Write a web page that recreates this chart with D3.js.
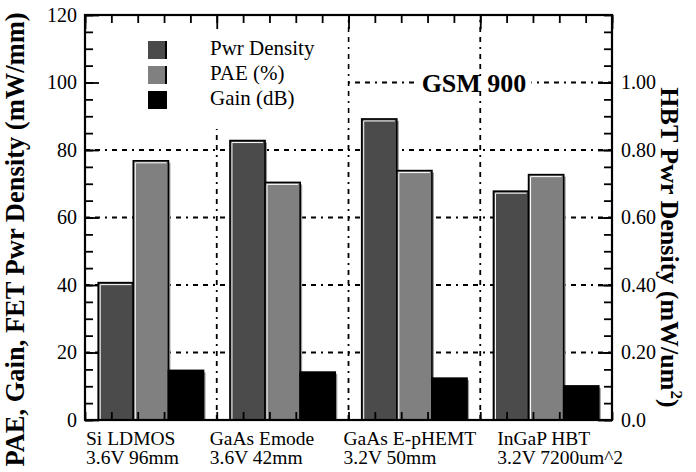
<!DOCTYPE html>
<html>
<head>
<meta charset="utf-8">
<script src="https://cdn.jsdelivr.net/npm/d3@7"></script>
<style>
  html, body { margin: 0; padding: 0; background: #fff; }
  svg text { font-family: "Liberation Serif", "Times New Roman", serif; }
</style>
</head>
<body>
<div id="chart"></div>
<script>
// Data
const devices = ["Si LDMOS", "GaAs Emode", "GaAs E-pHEMT", "InGaP HBT"];
const conditions = ["3.6V 96mm", "3.6V 42mm", "3.2V 50mm", "3.2V 7200um^2"];
const series = ["Pwr Density", "PAE (%)", "Gain (dB)"];
// FET power density in mW/mm; HBT value plotted on the same scale (right axis x100)
const pwrDensity = [40.7, 82.8, 89.2, 67.8];
const pae = [76.8, 70.4, 73.9, 72.7];
const gain = [14.7, 14.2, 12.4, 10.1];
const leftTicks = [0, 20, 40, 60, 80, 100, 120];
const rightTicks = [0, 0.2, 0.4, 0.6, 0.8, 1.0];

const width = 696, height = 472;
const margin = { top: 15, right: 84, bottom: 52, left: 85 };
const x0 = margin.left, x1 = width - margin.right;
const y0 = height - margin.bottom, y1 = margin.top;
const serif = "'Liberation Serif', 'Times New Roman', serif";

const colors = ["#4b4b4b", "#808080", "#000000"];
const values = [pwrDensity, pae, gain];

const svg = d3.select("#chart").append("svg")
    .attr("width", width)
    .attr("height", height)
    .attr("font-family", serif);

// Scales
const x = d3.scaleBand().domain(devices).range([x0, x1]).padding(0);
const xs = d3.scaleBand().domain(series).range([0, x.bandwidth()]).paddingInner(0).paddingOuter(0.376);
const xLin = d3.scaleLinear().domain([0, devices.length]).range([x0, x1]);
const y = d3.scaleLinear().domain([0, 120]).range([y0, y1]);
const yR = d3.scaleLinear().domain([0, 1.2]).range([y0, y1]);

// Grid lines (dash-dot)
const grid = svg.append("g")
    .attr("stroke", "#000")
    .attr("stroke-width", 1.8)
    .attr("stroke-dasharray", "5,5,5,5,2,5");
grid.selectAll("line.v")
    .data(d3.range(1, devices.length))
    .join("line")
    .attr("class", "v")
    .attr("x1", d => xLin(d)).attr("x2", d => xLin(d))
    .attr("y1", y0).attr("y2", y1);
grid.selectAll("line.h")
    .data(leftTicks.slice(1, -1))
    .join("line")
    .attr("class", "h")
    .attr("x1", x0).attr("x2", x1)
    .attr("y1", d => y(d)).attr("y2", d => y(d));

// Legend backdrop hides the grid in the upper-left cell
svg.append("rect")
    .attr("x", x0 + 1).attr("y", y1 + 1)
    .attr("width", xLin(2) - x0 - 2)
    .attr("height", y(80) - y1 - 22)
    .attr("fill", "#fff");

// Bars
const groups = svg.append("g")
    .selectAll("g")
    .data(devices)
    .join("g")
    .attr("transform", d => `translate(${x(d)},0)`);

const bars = groups.selectAll("g")
    .data((d, i) => series.map((s, k) => ({ s, k, v: values[k][i] })))
    .join("g");

bars.append("rect")
    .attr("x", d => xs(d.s) + 2)
    .attr("y", d => y(d.v) + 2)
    .attr("width", xs.bandwidth())
    .attr("height", d => y0 - y(d.v) - 2)
    .attr("fill", "#9a9a9a");

bars.append("rect")
    .attr("x", d => xs(d.s))
    .attr("y", d => y(d.v))
    .attr("width", xs.bandwidth())
    .attr("height", d => y0 - y(d.v))
    .attr("fill", d => colors[d.k])
    .attr("stroke", "#000")
    .attr("stroke-width", 1.6);

// inner highlight on top and left edges
bars.filter(d => d.k < 2).append("path")
    .attr("d", d => {
        const bx = xs(d.s) + 2, by = y(d.v) + 2;
        return `M${bx},${y0 - 1}V${by}H${bx + xs.bandwidth() - 4}`;
    })
    .attr("fill", "none")
    .attr("stroke", "#fff")
    .attr("stroke-width", 1);

// Axes ticks (inward)
function styleAxis(g) {
    g.select(".domain").remove();
    g.selectAll("line").attr("stroke", "#000").attr("stroke-width", 1.8);
}

svg.append("g").attr("transform", `translate(${x0},0)`)
    .call(d3.axisRight(y).tickValues(d3.range(0, 121, 5)).tickSize(8).tickFormat(""))
    .call(styleAxis);
svg.append("g").attr("transform", `translate(${x0},0)`)
    .call(d3.axisRight(y).tickValues(leftTicks).tickSize(14).tickFormat(""))
    .call(styleAxis);
svg.append("g").attr("transform", `translate(${x1},0)`)
    .call(d3.axisLeft(yR).tickValues(d3.range(0, 1.21, 0.05)).tickSize(8).tickFormat(""))
    .call(styleAxis);
svg.append("g").attr("transform", `translate(${x1},0)`)
    .call(d3.axisLeft(yR).tickValues(rightTicks).tickSize(14).tickFormat(""))
    .call(styleAxis);
svg.append("g").attr("transform", `translate(0,${y1})`)
    .call(d3.axisBottom(xLin).tickValues(d3.range(0, 4.01, 0.2)).tickSize(8).tickFormat(""))
    .call(styleAxis);
svg.append("g").attr("transform", `translate(0,${y1})`)
    .call(d3.axisBottom(xLin).tickValues(d3.range(0, 5)).tickSize(14).tickFormat(""))
    .call(styleAxis);
svg.append("g").attr("transform", `translate(0,${y0})`)
    .call(d3.axisTop(xLin).tickValues(d3.range(0, 4.01, 0.2)).tickSize(8).tickFormat(""))
    .call(styleAxis);

// Frame
svg.append("rect")
    .attr("x", x0).attr("y", y1)
    .attr("width", x1 - x0).attr("height", y0 - y1)
    .attr("fill", "none")
    .attr("stroke", "#000")
    .attr("stroke-width", 2.2);

// Tick labels
const leftLab = svg.append("g").attr("transform", `translate(${x0},0)`)
    .call(d3.axisLeft(y).tickValues(leftTicks).tickSize(0).tickPadding(8));
leftLab.attr("font-family", serif).attr("font-size", 20);
leftLab.select(".domain").remove();
leftLab.selectAll("text").attr("fill", "#000");

const rightLab = svg.append("g").attr("transform", `translate(${x1},0)`)
    .call(d3.axisRight(yR).tickValues(rightTicks).tickSize(0).tickPadding(9)
        .tickFormat(d => d === 0 ? "0.0" : d3.format(".2f")(d)));
rightLab.attr("font-family", serif).attr("font-size", 20);
rightLab.select(".domain").remove();
rightLab.selectAll("text").attr("fill", "#000");

// Category labels
const labelShift = [1, -7, -5, 17];
const cat = svg.append("g")
    .attr("font-size", 19.5)
    .selectAll("text")
    .data(devices)
    .join("text")
    .attr("x", (d, i) => x(d) + labelShift[i])
    .attr("y", y0 + 25)
    .attr("fill", "#000");
cat.append("tspan").text(d => d);
cat.append("tspan")
    .attr("x", (d, i) => x(d) + labelShift[i])
    .attr("dy", 19)
    .text((d, i) => conditions[i]);

// Legend
const legend = svg.append("g")
    .selectAll("g")
    .data(series)
    .join("g")
    .attr("transform", (d, i) => `translate(148,${41 + i * 25})`);
legend.append("rect")
    .attr("width", 19).attr("height", 18)
    .attr("fill", (d, i) => colors[i]);
legend.filter((d, i) => i < 2).append("line")
    .attr("x1", 18).attr("x2", 18).attr("y1", 0).attr("y2", 18)
    .attr("stroke", "#000").attr("stroke-width", 2);
legend.append("text")
    .attr("x", 62).attr("y", 14)
    .attr("font-size", 21)
    .attr("fill", "#000")
    .text(d => d);

// GSM 900 annotation with a white backdrop over the grid line
const annG = svg.append("g");
const annBg = annG.append("rect").attr("fill", "#fff");
const ann = annG.append("text")
    .attr("x", 474).attr("y", y(100) + 9)
    .attr("text-anchor", "middle")
    .attr("font-size", 26)
    .attr("font-weight", "bold")
    .text("GSM 900");
const bb = ann.node().getBBox();
annBg.attr("x", bb.x - 5).attr("y", y(100) - 4)
    .attr("width", bb.width + 10).attr("height", 8);

// Axis titles
svg.append("text")
    .attr("transform", `translate(24,${(y0 + y1) / 2 + 22}) rotate(-90)`)
    .attr("text-anchor", "middle")
    .attr("font-size", 26.5)
    .attr("font-weight", "bold")
    .text("PAE, Gain, FET Pwr Density (mW/mm)");

const rt = svg.append("text")
    .attr("transform", `translate(661,${(y0 + y1) / 2 + 30}) rotate(90)`)
    .attr("text-anchor", "middle")
    .attr("font-size", 26)
    .attr("font-weight", "bold");
rt.append("tspan").text("HBT Pwr Density (mW/um");
rt.append("tspan").attr("dy", -10).attr("font-size", 17).text("2");
rt.append("tspan").attr("dy", 10).text(")");
</script>
</body>
</html>
